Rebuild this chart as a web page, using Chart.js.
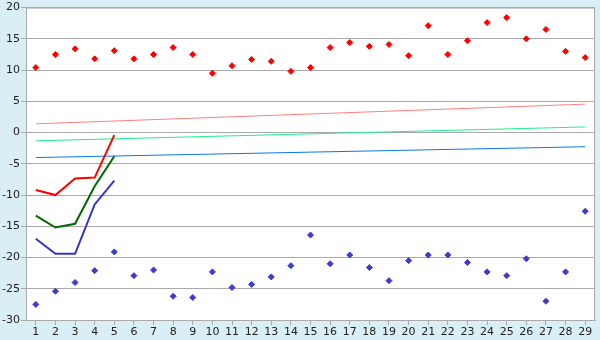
<!DOCTYPE html>
<html>
<head>
<meta charset="utf-8">
<script src="https://cdn.jsdelivr.net/npm/chart.js@4/dist/chart.umd.min.js"></script>
<style>
  html, body { margin: 0; padding: 0; background: #d9eef5; }
  #wrap { width: 600px; height: 340px; }
</style>
</head>
<body>
<div id="wrap"><canvas id="grafico" width="600" height="340"></canvas></div>
<script>
// categorias del eje X
const dias = ['1','2','3','4','5','6','7','8','9','10','11','12','13','14','15','16','17','18','19','20','21','22','23','24','25','26','27','28','29'];

// puntos sueltos
const maximos = [10.4, 12.5, 13.4, 11.8, 13.1, 11.8, 12.5, 13.6, 12.5, 9.5, 10.7, 11.7, 11.4, 9.8, 10.4, 13.6, 14.4, 13.8, 14.1, 12.3, 17.1, 12.5, 14.7, 17.6, 18.4, 15.0, 16.5, 13.0, 12.0];
const minimos = [-27.5, -25.4, -24.0, -22.1, -19.1, -22.9, -22.0, -26.2, -26.4, -22.3, -24.8, -24.3, -23.1, -21.3, -16.4, -21.0, -19.6, -21.6, -23.7, -20.5, -19.6, -19.6, -20.8, -22.3, -22.9, -20.2, -27.0, -22.3, -12.6];

// lineas de los primeros dias
const lineaRoja = [-9.2, -10.0, -7.35, -7.2, -0.4];
const lineaVerde = [-13.3, -15.2, -14.6, -8.6, -3.8];
const lineaAzul = [-17.0, -19.4, -19.4, -11.5, -7.7];

// tendencias (inicio, fin)
const tendRoja = [1.4, 4.55];
const tendVerde = [-1.32, 0.9];
const tendAzul = [-4.0, -2.27];

const ejeY = { min: -30, max: 20, paso: 5 };

const COLORES = {
    fondo: '#d9eef5',
    grid: '#aaaaaa',
    rojo: '#ff0000',
    verde: '#006600',
    azul: '#3333cc',
    azulPunto: '#3c3ccc',
    tendRoja: '#ff8080',
    tendVerde: '#1ef088',
    tendAzul: '#0a78e8'
};

const extremos = arr => [{ x: dias[0], y: arr[0] }, { x: dias[dias.length - 1], y: arr[1] }];

// fondo blanco del area y marco gris
const marcoPlugin = {
    id: 'marco',
    beforeDraw(chart) {
        const { ctx, chartArea: a } = chart;
        ctx.save();
        ctx.fillStyle = '#ffffff';
        ctx.fillRect(a.left, a.top, a.right - a.left, a.bottom - a.top);
        ctx.restore();
    },
    afterDraw(chart) {
        const { ctx, chartArea: a } = chart;
        ctx.save();
        ctx.strokeStyle = COLORES.grid;
        ctx.lineWidth = 1;
        ctx.strokeRect(a.left + 0.5, a.top + 0.5, a.right - a.left - 1, a.bottom - a.top);
        ctx.restore();
    }
};

function lineaTend(datos, color) {
    return {
        type: 'line', data: extremos(datos), borderColor: color, borderWidth: 1,
        pointRadius: 0, fill: false, tension: 0, order: 3
    };
}

function lineaPrincipal(datos, color) {
    return {
        type: 'line', data: datos, borderColor: color, borderWidth: 2,
        pointRadius: 0, fill: false, tension: 0, order: 2
    };
}

function puntos(datos, color) {
    return {
        type: 'line', data: datos, showLine: false, pointStyle: 'rectRot',
        pointRadius: 3, pointBackgroundColor: color, pointBorderColor: color,
        pointBorderWidth: 1, order: 1
    };
}

Chart.defaults.font.family = '"DejaVu Sans", Verdana, sans-serif';
Chart.defaults.font.size = 11;
Chart.defaults.color = '#222';

new Chart(document.getElementById('grafico'), {
    type: 'line',
    data: {
        labels: dias,
        datasets: [
            lineaTend(tendRoja, COLORES.tendRoja),
            lineaTend(tendVerde, COLORES.tendVerde),
            lineaTend(tendAzul, COLORES.tendAzul),
            lineaPrincipal(lineaRoja, COLORES.rojo),
            lineaPrincipal(lineaVerde, COLORES.verde),
            lineaPrincipal(lineaAzul, COLORES.azul),
            puntos(maximos, COLORES.rojo),
            puntos(minimos, COLORES.azulPunto)
        ]
    },
    options: {
        responsive: false,
        animation: false,
        layout: { padding: { top: 5, right: 5, left: 0, bottom: 0 } },
        plugins: { legend: { display: false }, tooltip: { enabled: false } },
        scales: {
            x: {
                offset: true,
                grid: { offset: false, drawOnChartArea: false, tickLength: 5, color: COLORES.grid },
                border: { color: COLORES.grid },
                ticks: { padding: 1, maxRotation: 0, autoSkip: false },
                afterFit: s => { s.height = 20; }
            },
            y: {
                min: ejeY.min, max: ejeY.max,
                grid: { color: COLORES.grid, tickLength: 5 },
                border: { color: COLORES.grid },
                ticks: { stepSize: ejeY.paso, padding: 1 },
                afterFit: s => { s.width = 26; }
            }
        }
    },
    plugins: [marcoPlugin]
});
</script>
</body>
</html>
